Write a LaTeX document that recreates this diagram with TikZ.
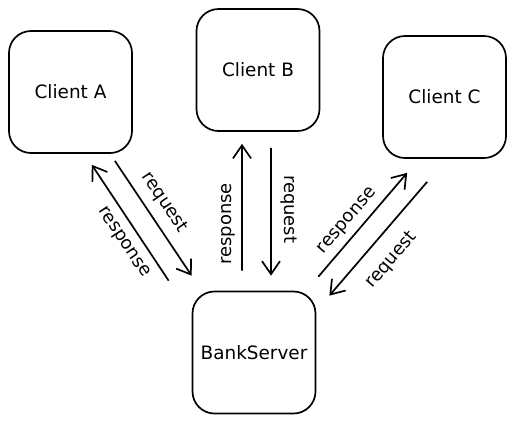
\documentclass[tikz,border=0pt]{standalone}
\usepackage{fontspec}
\setmainfont{DejaVu Sans}
\usetikzlibrary{arrows.meta}

\begin{document}
\begin{tikzpicture}[
    x=1bp, y=-1bp,
    box/.style={draw, rounded corners=22bp, line width=1.7bp, minimum width=123bp, minimum height=122bp, font=\fontsize{18.5}{20}\selectfont},
    flow/.style={line width=1.7bp, -{Straight Barb[length=13bp,width=18bp,line width=1.7bp]}},
    tag/.style={font=\fontsize{18}{20}\selectfont, inner sep=6bp}
]
    \useasboundingbox (0,0) rectangle (515,423);

    % Clientes arriba, servidor abajo
    \node[box] (clientA) at (70.5,92) {Client A};
    \node[box] (clientB) at (258,70) {Client B};
    \node[box] (clientC) at (444.5,97) {Client C};
    \node[box] (server) at (254,352.5) {BankServer};

    % Cliente A <-> servidor
    \draw[flow] ([shift={(-18bp,-7bp)}]clientA.south east) -- node[tag, sloped, above, pos=0.45, inner sep=9bp] {request} ([shift={(0bp,15bp)}]server.north west);
    \draw[flow] ([shift={(-23bp,10bp)}]server.north west) -- node[tag, sloped, below, pos=0.41, inner sep=9bp] {response} ([shift={(-41bp,-11bp)}]clientA.south east);

    % Cliente B <-> servidor
    \draw[flow] ([shift={(13bp,-16bp)}]clientB.south) -- node[tag, rotate=-90, anchor=south, pos=0.48, inner sep=9bp] {request} ([shift={(17bp,15bp)}]server.north);
    \draw[flow] ([shift={(-12bp,20bp)}]server.north) -- node[tag, rotate=90, anchor=south, pos=0.37, inner sep=6bp] {response} ([shift={(-16bp,-12bp)}]clientB.south);

    % Cliente C <-> servidor
    \draw[flow] ([shift={(45bp,-23bp)}]clientC.south west) -- node[tag, sloped, below, pos=0.55, inner sep=15bp] {request} ([shift={(13bp,-5bp)}]server.north east);
    \draw[flow] ([shift={(2bp,14bp)}]server.north east) -- node[tag, sloped, above, pos=0.45] {response} ([shift={(25bp,-14bp)}]clientC.south west);
\end{tikzpicture}
\end{document}
